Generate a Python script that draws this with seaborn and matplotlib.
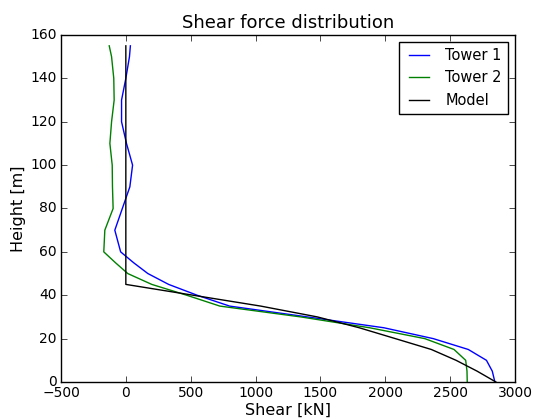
import matplotlib
matplotlib.use("Agg")
import matplotlib.pyplot as plt
import seaborn as sns
import pandas as pd

# Data
height_t1 = [0, 5, 10, 15, 20, 25, 30, 35, 40, 45, 50, 55, 60, 70, 80, 90, 100, 110, 120, 130, 140, 150, 155]
shear_t1 = [2845, 2825, 2780, 2640, 2370, 1990, 1400, 800, 550, 330, 170, 60, -40, -85, -27, 31, 52, 5, -33, -33, 0, 28, 35]

height_t2 = [0, 5, 10, 15, 20, 25, 30, 35, 40, 45, 50, 55, 60, 70, 80, 90, 100, 110, 120, 130, 140, 150, 155]
shear_t2 = [2632, 2630, 2620, 2530, 2305, 1880, 1350, 725, 470, 200, 15, -80, -170, -162, -98, -103, -105, -123, -110, -90, -93, -110, -128]

height_model = [0, 5, 10, 15, 20, 25, 30, 35, 45, 155]
shear_model = [2853, 2708, 2546, 2355, 2078, 1800, 1477, 1040, 0, 0]

series_names = ["Tower 1", "Tower 2", "Model"]
series_colors = ["#0000ff", "#008000", "#000000"]

plt.style.use("classic")
plt.rcParams["font.family"] = ["DejaVu Sans"]

frames = []
for name, h, s in zip(series_names, [height_t1, height_t2, height_model],
                      [shear_t1, shear_t2, shear_model]):
    frames.append(pd.DataFrame({"Shear": s, "Height": h, "Series": name}))
df = pd.concat(frames, ignore_index=True)

fig = plt.figure(figsize=(5.33, 4.19), dpi=100, facecolor="white")
ax = fig.add_axes([0.1144, 0.0883, 0.8518, 0.8282])

sns.lineplot(data=df, x="Shear", y="Height", hue="Series",
             palette=dict(zip(series_names, series_colors)),
             sort=False, estimator=None, linewidth=1.0, ax=ax)

ax.set_xlim(-500, 3000)
ax.set_ylim(0, 160)
ax.set_xticks(range(-500, 3001, 500))
ax.set_yticks(range(0, 161, 20))
ax.set_title("Shear force distribution", fontsize=13)
ax.set_xlabel("Shear [kN]", fontsize=11.5, labelpad=2)
ax.set_ylabel("Height [m]", fontsize=11.5, labelpad=3)
ax.tick_params(labelsize=10, pad=3)

leg = ax.legend(loc="upper right", fontsize=10.5, frameon=True, fancybox=False)
leg.get_frame().set_edgecolor("black")
leg.set_title(None)

fig.savefig("out.png", dpi=100, facecolor="white")
